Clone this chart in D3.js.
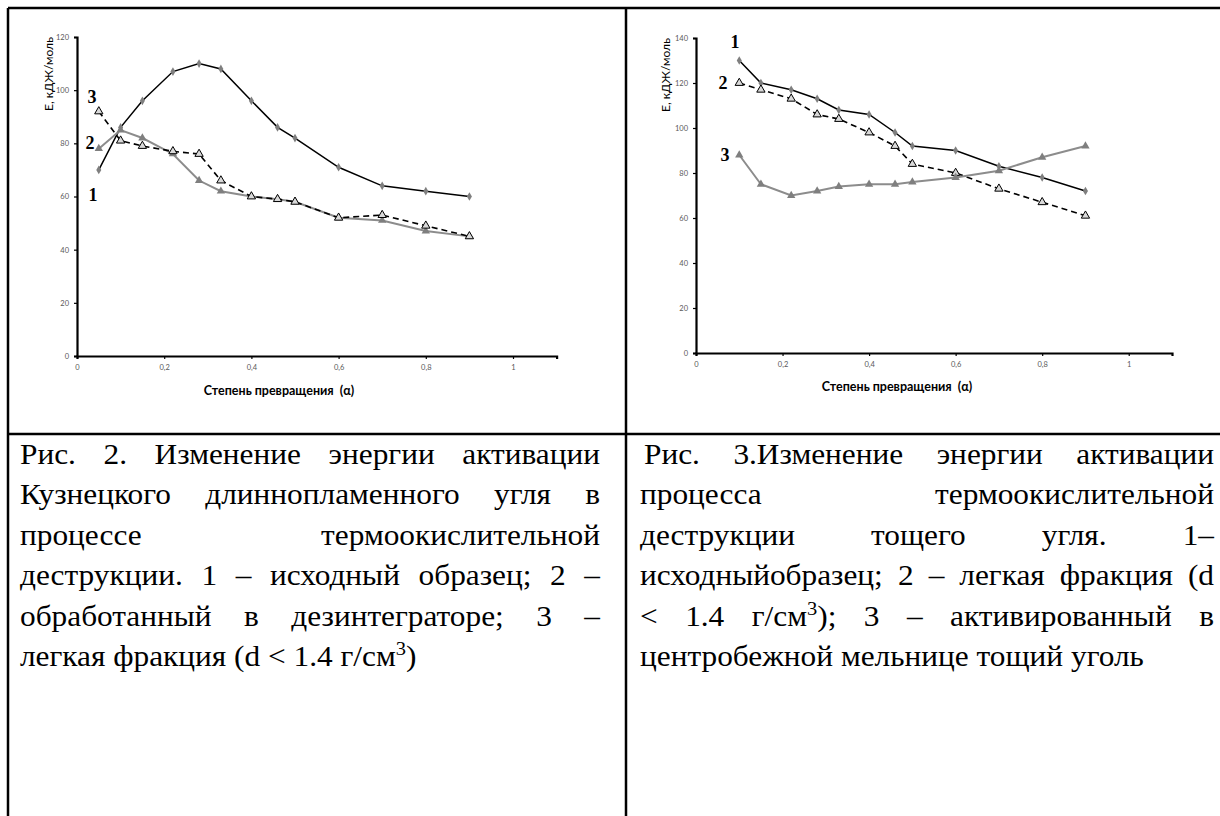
<!DOCTYPE html>
<html>
<head>
<meta charset="utf-8">
<script src="https://cdn.jsdelivr.net/npm/d3@7"></script>
<style>
  body { margin: 0; background: #fff; }
  svg { display: block; }
</style>
</head>
<body>
<script>
// --- data ---
var alphaLeft = [0.05, 0.1, 0.15, 0.22, 0.28, 0.33, 0.4, 0.46, 0.5, 0.6, 0.7, 0.8, 0.9];
var left1 = [70, 86, 96, 107, 110, 108, 96, 86, 82, 71, 64, 62, 60];
var left2 = [78, 85, 82, 76, 66, 62, 60, 59, 58, 52, 51, 47, 45];
var left3 = [92, 81, 79, 77, 76, 66, 60, 59, 58, 52, 53, 49, 45];

var alphaRight = [0.1, 0.15, 0.22, 0.28, 0.33, 0.4, 0.46, 0.5, 0.6, 0.7, 0.8, 0.9];
var right1 = [130, 120, 117, 113, 108, 106, 98, 92, 90, 83, 78, 72];
var right2 = [120, 117, 113, 106, 104, 98, 92, 84, 80, 73, 67, 61];
var right3 = [88, 75, 70, 72, 74, 75, 75, 76, 78, 81, 87, 92];

var xTicks = [0, 0.2, 0.4, 0.6, 0.8, 1];
var yTicksLeft = [0, 20, 40, 60, 80, 100, 120];
var yTicksRight = [0, 20, 40, 60, 80, 100, 120, 140];

var yTitle = "Е, кДЖ/моль";
var xTitle = "Степень превращения  (α)";

var captionLeft = [
  "Рис. 2. Изменение энергии активации",
  "Кузнецкого длиннопламенного угля в",
  "процессе термоокислительной",
  "деструкции. 1 – исходный образец; 2 –",
  "обработанный в дезинтеграторе; 3 –",
  "легкая фракция (d < 1.4 г/см^3)"
];
var captionRight = [
  "Рис. 3.Изменение энергии активации",
  "процесса термоокислительной",
  "деструкции тощего угля. 1–",
  "исходныйобразец; 2 – легкая фракция (d",
  "< 1.4 г/см^3); 3 – активированный в",
  "центробежной мельнице тощий уголь"
];

var svg = d3.select("body").append("svg")
  .attr("width", 1220)
  .attr("height", 816);

// table borders (right edge of the table is outside the picture)
var borders = [
  [8, 8, 1220, 8],
  [8, 8, 8, 816],
  [626, 8, 626, 816],
  [8, 434, 1220, 434]
];
svg.selectAll(".border")
  .data(borders)
  .enter()
  .append("line")
  .attr("x1", d => d[0]).attr("y1", d => d[1])
  .attr("x2", d => d[2]).attr("y2", d => d[3])
  .attr("stroke", "#000")
  .attr("stroke-width", 2.5);

function drawChart(cfg) {
  var x = d3.scaleLinear().domain([0, 1.1]).range([cfg.x0, cfg.x1]);
  var y = d3.scaleLinear().domain([0, cfg.yMax]).range([cfg.y0, cfg.y1]);
  var g = svg.append("g");

  var xAxis = d3.axisBottom(x).tickValues(xTicks).tickSize(3).tickPadding(6)
    .tickFormat(d => String(d).replace(".", ","));
  var yAxis = d3.axisLeft(y).tickValues(cfg.yTicks).tickSize(3).tickPadding(5);

  var gx = g.append("g").attr("transform", `translate(0,${cfg.y0})`).call(xAxis);
  var gy = g.append("g").attr("transform", `translate(${cfg.x0},0)`).call(yAxis);
  [gx, gy].forEach(function(a) {
    a.select(".domain").attr("stroke", "#000").attr("stroke-width", 2.2);
    a.selectAll(".tick line").attr("stroke", "#000").attr("stroke-width", 1.2);
    a.selectAll(".tick text")
      .attr("fill", "#595959")
      .style("font-family", "Lato, 'Open Sans', sans-serif")
      .style("font-size", "7.5px");
  });

  // axis titles
  g.append("text")
    .attr("transform", `translate(${cfg.yTitleX},${cfg.yTitleY}) rotate(-90)`)
    .attr("text-anchor", "middle")
    .style("font-family", "Lato, 'Open Sans', sans-serif")
    .style("font-size", "12px")
    .text(yTitle);
  g.append("text")
    .attr("x", cfg.xTitleX).attr("y", cfg.xTitleY)
    .attr("text-anchor", "middle")
    .style("font-family", "Lato, 'Open Sans', sans-serif")
    .style("font-weight", "bold")
    .style("font-size", "12.5px")
    .style("white-space", "pre")
    .text(xTitle);

  var line = d3.line().x(d => x(d[0])).y(d => y(d[1]));

  cfg.series.forEach(function(s) {
    var pts = s.values.map((v, i) => [s.alpha[i], v]);
    g.append("path")
      .datum(pts)
      .attr("d", line)
      .attr("fill", "none")
      .attr("stroke", s.stroke)
      .attr("stroke-width", s.width)
      .attr("stroke-dasharray", s.dash || null);

    var sym = d3.symbol().type(s.marker === "diamond" ? d3.symbolDiamond : d3.symbolTriangle)
      .size(s.marker === "diamond" ? 22 : 30);
    g.selectAll(null)
      .data(pts)
      .enter()
      .append("path")
      .attr("d", sym)
      .attr("transform", d => `translate(${x(d[0])},${y(d[1])})`)
      .attr("fill", s.markerFill)
      .attr("stroke", s.markerStroke)
      .attr("stroke-width", s.markerStroke === "none" ? 0 : 1);
  });

  g.selectAll(null)
    .data(cfg.labels)
    .enter()
    .append("text")
    .attr("x", d => d[1]).attr("y", d => d[2])
    .attr("text-anchor", "middle")
    .style("font-family", "'Liberation Serif', 'Times New Roman', serif")
    .style("font-weight", "bold")
    .style("font-size", "18px")
    .text(d => d[0]);
}

var solidBlack = { stroke: "#000", width: 1.5, marker: "diamond", markerFill: "#7f7f7f", markerStroke: "none" };
var solidGray = { stroke: "#8c8c8c", width: 2, marker: "triangle", markerFill: "#7f7f7f", markerStroke: "none" };
var dashBlack = { stroke: "#000", width: 1.6, dash: "6,4", marker: "triangle", markerFill: "#d9d9d9", markerStroke: "#000" };

drawChart({
  x0: 77, x1: 556.6, y0: 356, y1: 37, yMax: 120, yTicks: yTicksLeft,
  yTitleX: 53, yTitleY: 74, xTitleX: 279, xTitleY: 395,
  series: [
    Object.assign({ alpha: alphaLeft, values: left1 }, solidBlack),
    Object.assign({ alpha: alphaLeft, values: left2 }, solidGray),
    Object.assign({ alpha: alphaLeft, values: left3 }, dashBlack)
  ],
  labels: [["3", 92, 103], ["2", 90, 149], ["1", 93, 201]]
});

drawChart({
  x0: 696, x1: 1172, y0: 353, y1: 38, yMax: 140, yTicks: yTicksRight,
  yTitleX: 670, yTitleY: 75, xTitleX: 897, xTitleY: 391,
  series: [
    Object.assign({ alpha: alphaRight, values: right1 }, solidBlack),
    Object.assign({ alpha: alphaRight, values: right2 }, dashBlack),
    Object.assign({ alpha: alphaRight, values: right3 }, solidGray)
  ],
  labels: [["1", 735, 48], ["2", 723, 89], ["3", 725, 161]]
});

// justified captions, word by word (the source text is a little stretched sideways)
function drawCaption(lines, left, right, firstIndent) {
  var fontSize = 29;
  var sx = 1.08;
  lines.forEach(function(txt, li) {
    var baseline = 464 + li * 40.4;
    var words = txt.split(/\s+/).filter(w => w.length);
    var startX = left + (li === 0 ? firstIndent : 0);
    var row = svg.append("g");
    var nodes = words.map(function(w) {
      var t = row.append("text")
        .style("font-family", "'Liberation Serif', 'Times New Roman', serif")
        .style("font-size", fontSize + "px")
        .attr("fill", "#000");
      var parts = w.split("^");
      t.append("tspan").text(parts[0]);
      if (parts.length > 1) {
        t.append("tspan").attr("dy", -11).style("font-size", "19px").text(parts[1].charAt(0));
        if (parts[1].length > 1) t.append("tspan").attr("dy", 11).text(parts[1].slice(1));
      }
      return t;
    });
    var widths = nodes.map(n => n.node().getComputedTextLength() * sx);
    var total = d3.sum(widths);
    var last = li === lines.length - 1;
    var gap = (!last && words.length > 1) ? (right - startX - total) / (words.length - 1) : fontSize * 0.25 * sx;
    var cx = startX;
    nodes.forEach(function(n, i) {
      n.attr("transform", `translate(${cx},${baseline}) scale(${sx},1)`);
      cx += widths[i] + gap;
    });
  });
}

drawCaption(captionLeft, 20, 600, 0);
drawCaption(captionRight, 640, 1214, 4);
</script>
</body>
</html>
